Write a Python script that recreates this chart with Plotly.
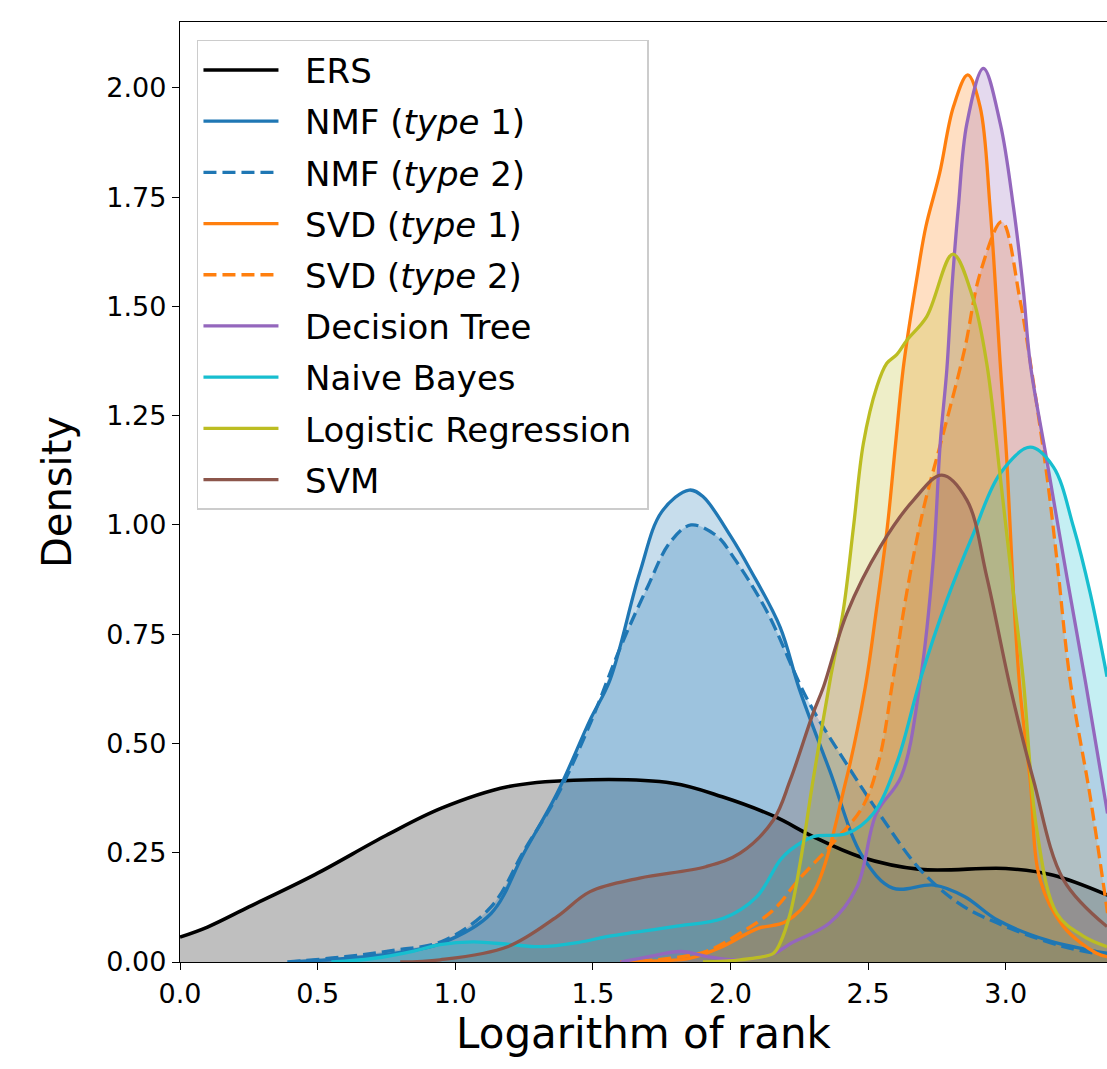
import plotly.graph_objects as go

# ---- data (x = log rank, y = density) ----
ERS_x = [0.0, 0.1, 0.25, 0.49, 0.75, 0.95, 1.19, 1.43, 1.79, 1.97, 2.16, 2.30, 2.47, 2.69, 3.0, 3.17, 3.37]
ERS_y = [0.057, 0.08, 0.126, 0.20, 0.29, 0.352, 0.401, 0.416, 0.409, 0.378, 0.333, 0.287, 0.241, 0.212, 0.214, 0.199, 0.153]

NMF1_x = [0.40, 0.60, 0.80, 0.95, 1.13, 1.25, 1.37, 1.49, 1.562, 1.67, 1.75, 1.85, 1.9, 2.0, 2.07, 2.18, 2.25, 2.36, 2.48, 2.59, 2.74, 2.85, 2.97, 3.15, 3.33, 3.37]
NMF1_y = [0.0, 0.008, 0.022, 0.043, 0.111, 0.25, 0.386, 0.554, 0.645, 0.89, 1.03, 1.08, 1.065, 0.975, 0.9, 0.767, 0.625, 0.439, 0.241, 0.169, 0.176, 0.15, 0.096, 0.05, 0.024, 0.02]

NMF2_x = [0.39, 0.60, 0.78, 0.955, 1.13, 1.25, 1.37, 1.49, 1.6, 1.7, 1.78, 1.857, 1.95, 2.01, 2.13, 2.28, 2.42, 2.54, 2.69, 2.83, 2.97, 3.21, 3.37]
NMF2_y = [0.0, 0.012, 0.027, 0.048, 0.126, 0.255, 0.38, 0.545, 0.72, 0.86, 0.96, 1.0, 0.975, 0.927, 0.805, 0.6, 0.455, 0.34, 0.211, 0.134, 0.089, 0.035, 0.015]

SVD1_x = [1.6, 1.75, 1.85, 1.97, 2.1, 2.2, 2.3, 2.42, 2.49, 2.53, 2.57, 2.6, 2.63, 2.68, 2.71, 2.76, 2.81, 2.862, 2.907, 2.943, 2.98, 3.004, 3.028, 3.052, 3.089, 3.125, 3.21, 3.33, 3.37]
SVD1_y = [0.0, 0.003, 0.008, 0.035, 0.077, 0.092, 0.157, 0.416, 0.63, 0.805, 0.996, 1.187, 1.37, 1.576, 1.683, 1.805, 1.957, 2.03, 1.957, 1.728, 1.37, 1.149, 0.844, 0.622, 0.416, 0.188, 0.081, 0.02, 0.012]

SVD2_x = [1.6, 1.73, 1.91, 2.035, 2.156, 2.25, 2.36, 2.48, 2.54, 2.59, 2.64, 2.70, 2.77, 2.85, 2.907, 2.986, 3.052, 3.09, 3.15, 3.186, 3.234, 3.307, 3.37]
SVD2_y = [0.0, 0.005, 0.024, 0.066, 0.119, 0.19, 0.264, 0.355, 0.462, 0.645, 0.844, 1.034, 1.202, 1.40, 1.576, 1.694, 1.515, 1.37, 1.111, 0.92, 0.645, 0.378, 0.112]

DT_x = [1.6, 1.7, 1.82, 1.92, 2.03, 2.16, 2.22, 2.36, 2.46, 2.53, 2.62, 2.69, 2.737, 2.762, 2.786, 2.804, 2.828, 2.859, 2.919, 2.98, 3.028, 3.064, 3.089, 3.149, 3.222, 3.29, 3.37]
DT_y = [0.0, 0.012, 0.024, 0.012, 0.005, 0.02, 0.043, 0.089, 0.172, 0.34, 0.424, 0.645, 0.92, 1.187, 1.355, 1.538, 1.728, 1.919, 2.045, 1.919, 1.728, 1.538, 1.37, 1.149, 0.882, 0.64, 0.34]

NB_x = [0.55, 0.7, 0.85, 0.945, 1.066, 1.2, 1.308, 1.45, 1.55, 1.793, 1.974, 2.095, 2.18, 2.217, 2.301, 2.423, 2.519, 2.604, 2.689, 2.786, 2.883, 2.98, 3.089, 3.173, 3.246, 3.307, 3.368]
NB_y = [0.0, 0.008, 0.025, 0.04, 0.046, 0.04, 0.035, 0.045, 0.058, 0.081, 0.1, 0.149, 0.233, 0.256, 0.287, 0.294, 0.34, 0.455, 0.645, 0.828, 0.981, 1.118, 1.178, 1.133, 0.996, 0.844, 0.653]

LR_x = [1.9, 2.035, 2.156, 2.18, 2.217, 2.253, 2.30, 2.362, 2.41, 2.447, 2.483, 2.532, 2.568, 2.604, 2.641, 2.713, 2.808, 2.883, 2.931, 2.98, 3.028, 3.064, 3.113, 3.186, 3.28, 3.368]
LR_y = [0.0, 0.005, 0.02, 0.043, 0.111, 0.226, 0.416, 0.645, 0.805, 0.996, 1.187, 1.317, 1.37, 1.39, 1.423, 1.477, 1.62, 1.515, 1.37, 1.111, 0.844, 0.645, 0.302, 0.111, 0.06, 0.035]

SVM_x = [0.8, 0.945, 1.19, 1.37, 1.49, 1.67, 1.91, 2.035, 2.156, 2.217, 2.30, 2.338, 2.423, 2.544, 2.665, 2.768, 2.859, 2.931, 3.016, 3.101, 3.21, 3.368]
SVM_y = [0.0, 0.005, 0.035, 0.104, 0.161, 0.192, 0.218, 0.249, 0.325, 0.416, 0.569, 0.63, 0.798, 0.95, 1.057, 1.114, 1.057, 0.882, 0.63, 0.416, 0.188, 0.081]

names = ["ERS", "NMF (<i>type</i> 1)", "NMF (<i>type</i> 2)", "SVD (<i>type</i> 1)", "SVD (<i>type</i> 2)",
         "Decision Tree", "Naive Bayes", "Logistic Regression", "SVM"]
xs = [ERS_x, NMF1_x, NMF2_x, SVD1_x, SVD2_x, DT_x, NB_x, LR_x, SVM_x]
ys = [ERS_y, NMF1_y, NMF2_y, SVD1_y, SVD2_y, DT_y, NB_y, LR_y, SVM_y]
colors = ["#000000", "#1f77b4", "#1f77b4", "#ff7f0e", "#ff7f0e", "#9467bd", "#17becf", "#bcbd22", "#8c564b"]
dashes = ["solid", "solid", "13px,6px", "solid", "13px,6px", "solid", "solid", "solid", "solid"]
SMOOTH = 1.0


def rgba(hexc, a):
    h = hexc.lstrip("#")
    return "rgba(%d,%d,%d,%s)" % (int(h[0:2], 16), int(h[2:4], 16), int(h[4:6], 16), a)


fig = go.Figure()
# all shaded areas first (like matplotlib: collections below lines)
for x, y, c in zip(xs, ys, colors):
    fig.add_trace(go.Scatter(
        x=x, y=y, mode="lines", fill="tozeroy", fillcolor=rgba(c, 0.25),
        line=dict(color=rgba(c, 0), width=0, shape="spline", smoothing=SMOOTH),
        showlegend=False, hoverinfo="skip"))
# then the outlines, carrying the legend entries
NBSP = "\u00a0"
for i, (n, x, y, c, d) in enumerate(zip(names, xs, ys, colors, dashes)):
    fig.add_trace(go.Scatter(
        x=x, y=y, mode="lines", name=NBSP * 2 + n + NBSP, legendgroup="g%d" % i,
        line=dict(color=c, width=3.6 if c == "#000000" else 3.3, dash=d, shape="spline", smoothing=SMOOTH),
        hoverinfo="skip"))

axis_font = dict(family="DejaVu Sans", size=27, color="black")
fig.update_layout(
    width=1107, height=1069,
    margin=dict(l=180, r=0, t=22, b=107),
    paper_bgcolor="white", plot_bgcolor="white",
    font=dict(family="DejaVu Sans", color="black"),
    xaxis=dict(range=[0, 3.368], dtick=0.5, tick0=0, tickformat=".1f",
               showgrid=False, zeroline=False, showline=True, linecolor="black", linewidth=1.3,
               mirror=True, ticks="outside", ticklen=7, tickwidth=1.3, tickcolor="black",
               tickfont=axis_font,
               title=dict(text="Logarithm of rank", font=dict(family="DejaVu Sans", size=42), standoff=10)),
    yaxis=dict(range=[0, 2.151], dtick=0.25, tick0=0, tickformat=".2f",
               showgrid=False, zeroline=False, showline=True, linecolor="black", linewidth=1.3,
               mirror=False, ticks="outside", ticklen=7, tickwidth=1.3, tickcolor="black",
               tickfont=axis_font,
               title=dict(text="Density", font=dict(family="DejaVu Sans", size=40), standoff=22)),
    legend=dict(x=0.0183, y=0.981, xanchor="left", yanchor="top",
                bgcolor="rgba(255,255,255,0.8)", bordercolor="#cccccc", borderwidth=1.5,
                font=dict(family="DejaVu Sans", size=34, color="black"),
                tracegroupgap=4, itemwidth=75),
)

fig.write_html("out.html")
